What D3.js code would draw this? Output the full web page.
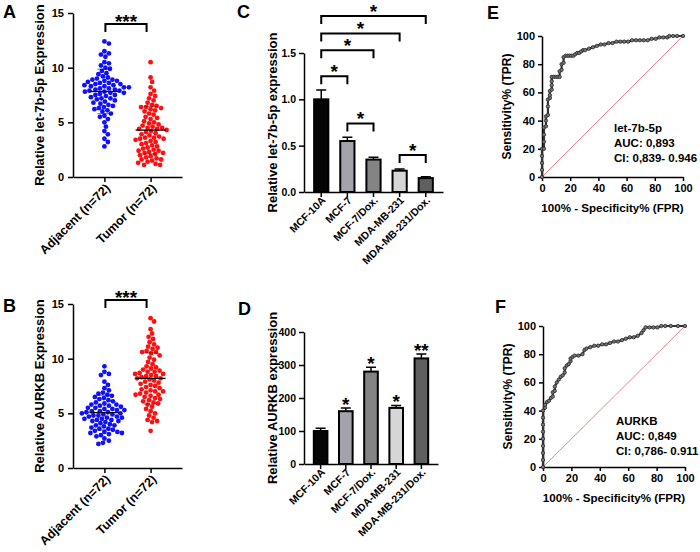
<!DOCTYPE html>
<html>
<head>
<meta charset="utf-8">
<title></title>
<style>
  body { margin: 0; background: #fff; }
  svg { display: block; font-family: "Liberation Sans", Arial, sans-serif; font-weight: bold; }
  .axis path, .axis line { stroke: #000; stroke-width: 1.5; }
</style>
</head>
<body>
<svg id="fig" width="700" height="552"></svg>
<script src="https://cdn.jsdelivr.net/npm/d3@7"></script>
<script>

// ---- panels A / B : scatter ----
const groupsAB = ["Adjacent (n=72)", "Tumor (n=72)"];
const yTicksAB = [0, 5, 10, 15];

const let7Adjacent = [12.4, 12.2, 11.5, 11.3, 11.2, 11.0, 10.5, 10.4, 10.2, 10.0, 9.9, 9.7, 9.5, 9.4, 9.2, 9.1, 9.0, 8.9,
  8.9, 8.8, 8.8, 8.7, 8.6, 8.6, 8.5, 8.5, 8.4, 8.4, 8.3, 8.3, 8.2, 8.2, 8.1, 8.1, 8.0, 8.0, 7.9, 7.9, 7.8, 7.8, 7.7, 7.7,
  7.6, 7.5, 7.5, 7.4, 7.3, 7.2, 7.2, 7.1, 7.0, 6.9, 6.8, 6.7, 6.6, 6.5, 6.4, 6.3, 6.2, 6.1, 6.0, 5.8, 5.6, 5.5, 5.3,
  5.0, 4.6, 4.2, 3.9, 3.5, 3.2, 2.8];
const let7Tumor = [10.5, 9.1, 8.7, 8.2, 7.9, 7.6, 7.4, 7.2, 7.0, 6.8, 6.6, 6.5, 6.4, 6.3, 6.2, 6.1, 6.0, 5.8, 5.7, 5.5,
  5.4, 5.3, 5.1, 5.0, 4.9, 4.8, 4.7, 4.6, 4.5, 4.5, 4.4, 4.4, 4.3, 4.2, 4.1, 4.0, 3.9, 3.8, 3.7, 3.6, 3.5, 3.5, 3.4,
  3.3, 3.2, 3.1, 3.0, 2.9, 2.8, 2.7, 2.6, 2.5, 2.4, 2.3, 2.2, 2.2, 2.1, 2.0, 1.9, 1.8, 1.7, 1.6, 1.5, 1.4, 1.3, 1.2,
  1.1, 1.1, 1.6, 2.4, 3.6, 6.4];
const aurkbAdjacent = [9.3, 8.8, 8.6, 8.5, 7.9, 7.6, 7.3, 7.1, 6.9, 6.8, 6.6, 6.5, 6.4, 6.3, 6.2, 6.1, 6.0, 5.9, 5.8,
  5.7, 5.7, 5.6, 5.5, 5.5, 5.4, 5.4, 5.3, 5.3, 5.2, 5.2, 5.1, 5.1, 5.0, 5.0, 4.9, 4.9, 4.8, 4.8, 4.7, 4.7, 4.6, 4.6,
  4.5, 4.5, 4.4, 4.3, 4.3, 4.2, 4.1, 4.0, 3.9, 3.9, 3.8, 3.7, 3.6, 3.6, 3.5, 3.4, 3.3, 3.3, 3.2, 3.2, 3.1, 3.0, 2.9,
  2.7, 2.5, 2.3, 2.2, 6.7, 5.8, 4.4];
const aurkbTumor = [13.7, 13.4, 12.7, 12.3, 12.0, 11.8, 11.5, 11.3, 11.1, 10.9, 10.7, 10.6, 10.5, 10.3, 10.1, 9.9, 9.7,
  9.5, 9.3, 9.2, 9.0, 8.9, 8.8, 8.7, 8.6, 8.5, 8.4, 8.4, 8.3, 8.2, 8.1, 8.0, 7.9, 7.8, 7.7, 7.6, 7.5, 7.4, 7.3, 7.2,
  7.1, 7.0, 6.9, 6.8, 6.7, 6.6, 6.5, 6.4, 6.3, 6.2, 6.1, 6.0, 5.8, 5.6, 5.4, 5.2, 5.0, 4.8, 4.6, 4.4, 4.3, 4.2, 3.4,
  10.6, 9.1, 8.8, 8.6, 6.7, 7.0, 8.2, 11.0, 5.9];

// ---- panels C / D : bars ----
const cellLines = ["MCF-10A", "MCF-7", "MCF-7/Dox.", "MDA-MB-231", "MDA-MB-231/Dox."];
const barColors = ["#050505", "#a3a3ab", "#848484", "#d6d6d6", "#5f5f5f"];
const let7Bars = [1.00, 0.55, 0.35, 0.23, 0.15];
const let7Err = [0.10, 0.04, 0.025, 0.018, 0.015];
const let7Ticks = [0, 0.5, 1.0, 1.5];
const let7Pairs = [[0, 1], [0, 2], [0, 3], [0, 4], [1, 2], [3, 4]];
const let7PairLevels = [1.25, 1.53, 1.71, 1.90, 0.74, 0.40];
const aurkbBars = [100, 160, 280, 170, 320];
const aurkbErr = [8, 10, 13, 7, 13];
const aurkbTicks = [0, 100, 200, 300, 400];
const aurkbStars = ["", "*", "*", "*", "**"];

// ---- panels E / F : ROC, [100% - specificity, sensitivity] ----
const rocTicks = [0, 20, 40, 60, 80, 100];
const rocE = [[0, 0], [0, 5], [0, 10], [0, 15], [0, 20], [1.4, 20], [1.4, 25], [1.4, 30], [1.4, 35], [2.8, 36],
  [2.8, 40], [2.8, 43], [4.2, 44], [4.2, 50], [4.2, 55], [5.6, 56], [5.6, 58], [5.6, 61], [6.9, 62], [6.9, 65],
  [6.9, 68], [6.9, 71], [8.3, 71], [9.7, 71], [11.1, 71], [12.5, 71], [12.5, 75], [13.9, 76], [13.9, 80], [15.3, 81],
  [15.3, 85], [16.7, 86], [18.1, 86], [19.4, 86], [20.8, 86], [22.2, 86], [23.6, 87], [25, 88], [26.4, 88],
  [27.8, 89], [29.2, 90], [30.6, 90], [33.3, 91], [36.1, 92], [38.9, 93], [41.7, 94], [44.4, 94], [47.2, 95],
  [50, 95], [52.8, 96], [55.6, 96], [58.3, 96], [61.1, 96], [63.9, 97], [66.7, 97], [69.4, 97], [72.2, 97], [75, 97],
  [77.8, 98], [80.6, 98], [83.3, 99], [86.1, 99], [88.9, 99], [90.3, 100], [93, 100], [95.8, 100], [100, 100]];
const rocF = [[0, 0], [0, 5], [0, 10], [0, 15], [0, 20], [0, 25], [0, 30], [0, 35], [0, 40], [1.4, 42], [1.4, 44],
  [2.8, 46], [4.2, 47], [5.6, 49], [6.9, 50], [6.9, 53], [8.3, 54], [8.3, 57], [9.7, 60], [11.1, 62], [12.5, 64],
  [13.9, 65], [15.3, 67], [15.3, 70], [16.7, 72], [18.1, 73], [19.4, 75], [19.4, 77], [20.8, 78], [22.2, 79],
  [25, 79], [27.8, 80], [29.2, 83], [30.6, 84], [33.3, 85], [36.1, 86], [38.9, 86], [41.7, 87], [44.4, 87],
  [47.2, 88], [50, 89], [52.8, 89], [55.6, 90], [58.3, 91], [61.1, 92], [63.9, 92], [66.7, 93], [69.4, 95],
  [70.8, 97], [72.2, 99], [75, 99], [77.8, 99], [80.6, 99], [83.3, 100], [86.1, 100], [90, 100], [95, 100], [100, 100]];
const rocTextE = ["let-7b-5p", "AUC: 0,893", "CI: 0,839- 0.946"];
const rocTextF = ["AURKB", "AUC: 0,849", "CI: 0,786- 0.911"];

const svg = d3.select("#fig");
svg.append("rect").attr("width", 700).attr("height", 552).attr("fill", "#fff");

function letter(t, x, y) {
  svg.append("text").attr("x", x).attr("y", y).attr("font-size", 18).text(t);
}

function yLabel(t, x, y, size) {
  svg.append("text").attr("transform", `translate(${x},${y}) rotate(-90)`)
    .attr("text-anchor", "middle").attr("font-size", size).text(t);
}

function styleTicks(sel, size) {
  sel.attr("font-family", null).attr("font-size", size).attr("fill", "#000");
  sel.selectAll("text").attr("fill", "#000");
}

function rotateLabels(axisG, size, dx, dy) {
  axisG.selectAll(".tick text")
    .attr("y", 0).attr("dy", 0).attr("font-size", size)
    .attr("text-anchor", "end")
    .attr("transform", `translate(${dx},${dy}) rotate(-45)`);
}

// simple beeswarm: each point goes to the nearest free offset from the centre
function swarm(values, y, minDist) {
  const placed = [];
  const out = new Array(values.length);
  const order = values.map((v, i) => i).sort((a, b) => values[b] - values[a]);
  order.forEach(i => {
    const py = y(values[i]);
    let best = 0;
    for (let k = 0; k < 400; k++) {
      const cand = (k % 2 ? 1 : -1) * Math.ceil(k / 2) * 0.5;
      if (placed.every(p => (p[0] - cand) ** 2 + (p[1] - py) ** 2 >= minDist * minDist)) { best = cand; break; }
    }
    placed.push([best, py]);
    out[i] = [best, py];
  });
  return out;
}

function drawScatter(cfg) {
  const y = d3.scaleLinear().domain([0, 15]).range([cfg.bottom, cfg.top]);
  const x = d3.scalePoint().domain(groupsAB).range([73, 182]).padding(0.68);

  const ya = svg.append("g").attr("class", "axis").attr("transform", "translate(73,0)")
    .call(d3.axisLeft(y).tickValues(yTicksAB).tickSize(5).tickSizeOuter(0).tickPadding(4));
  styleTicks(ya, 11);

  const xa = svg.append("g").attr("class", "axis").attr("transform", `translate(0,${cfg.bottom})`)
    .call(d3.axisBottom(x).tickSize(5).tickSizeOuter(0));
  styleTicks(xa, 12.5);
  rotateLabels(xa, 12.5, 6, 12);

  const colors = ["#1010ff", "#ff1010"];
  const lineColors = ["#00008a", "#8a0000"];
  cfg.series.forEach((vals, gi) => {
    const cx = x(groupsAB[gi]);
    const pts = swarm(vals, y, 4.6);
    svg.append("g").selectAll("circle").data(pts).join("circle")
      .attr("cx", d => cx + d[0]).attr("cy", d => d[1]).attr("r", 2.4)
      .attr("fill", colors[gi]);
    const m = d3.mean(vals), sd = d3.deviation(vals);
    [m - sd, m + sd].forEach(v => {
      svg.append("line").attr("x1", cx - 7).attr("x2", cx + 7).attr("y1", y(v)).attr("y2", y(v))
        .attr("stroke", lineColors[gi]).attr("stroke-width", 1).attr("opacity", 0.6);
    });
    svg.append("line").attr("x1", cx - 15).attr("x2", cx + 15).attr("y1", y(m)).attr("y2", y(m))
      .attr("stroke", "#000").attr("stroke-width", 1.3);
  });

  // significance bracket
  const x1 = x(groupsAB[0]) + 1, x2 = x(groupsAB[1]) - 4;
  svg.append("path").attr("d", `M${x1},${cfg.brTop + 8}V${cfg.brTop}H${x2}V${cfg.brTop + 8}`)
    .attr("fill", "none").attr("stroke", "#000").attr("stroke-width", 2);
  svg.append("text").attr("x", (x1 + x2) / 2).attr("y", cfg.brTop - 7 + 0.57 * 19)
    .attr("text-anchor", "middle").attr("font-size", 19).text("***");

  yLabel(cfg.label, 44, (cfg.top + cfg.bottom) / 2, 13);
}

function drawBars(cfg) {
  const x = d3.scaleBand().domain(cellLines).range([304, cfg.right]).paddingInner(0.38).paddingOuter(0.35);
  const y = d3.scaleLinear().domain(cfg.domain).range([cfg.bottom, cfg.top]);

  const ya = svg.append("g").attr("class", "axis").attr("transform", "translate(304,0)")
    .call(d3.axisLeft(y).tickValues(cfg.ticks).tickFormat(cfg.format).tickSize(5).tickSizeOuter(0).tickPadding(3));
  styleTicks(ya, 10.5);

  const xa = svg.append("g").attr("class", "axis").attr("transform", `translate(0,${cfg.bottom})`)
    .call(d3.axisBottom(x).tickSize(5).tickSizeOuter(0));
  styleTicks(xa, 10.5);
  rotateLabels(xa, 10.5, 5, 9);

  const bw = x.bandwidth();
  // error bars (upper only)
  svg.append("g").selectAll("path").data(cellLines).join("path")
    .attr("d", (c, i) => {
      const cx = x(c) + bw / 2, top = y(cfg.values[i] + cfg.err[i]);
      return `M${cx},${y(cfg.values[i])}V${top}M${cx - 5},${top}H${cx + 5}`;
    })
    .attr("stroke", "#000").attr("stroke-width", 1.5).attr("fill", "none");

  svg.append("g").selectAll("rect").data(cellLines).join("rect")
    .attr("x", c => x(c) + 1).attr("width", bw - 2)
    .attr("y", (c, i) => y(cfg.values[i]))
    .attr("height", (c, i) => y(0) - y(cfg.values[i]))
    .attr("fill", (c, i) => barColors[i]).attr("stroke", "#000").attr("stroke-width", 2);

  if (cfg.pairs) {
    cfg.pairs.forEach((p, k) => {
      const a = x(cellLines[p[0]]) + bw / 2, b = x(cellLines[p[1]]) + bw / 2;
      const ly = y(cfg.levels[k]);
      svg.append("path").attr("d", `M${a},${ly + 8}V${ly}H${b}V${ly + 8}`)
        .attr("fill", "none").attr("stroke", "#000").attr("stroke-width", 2);
      svg.append("text").attr("x", (a + b) / 2).attr("y", ly - 9 + 0.57 * 19)
        .attr("text-anchor", "middle").attr("font-size", 19).text("*");
    });
  }
  if (cfg.stars) {
    cfg.stars.forEach((s, i) => {
      if (!s) return;
      const top = y(cfg.values[i] + cfg.err[i]);
      svg.append("text").attr("x", x(cellLines[i]) + bw / 2).attr("y", top - 8 + 0.57 * 19)
        .attr("text-anchor", "middle").attr("font-size", 19).text(s);
    });
  }

  yLabel(cfg.label, 277, (cfg.top + cfg.bottom) / 2, 13);
}

function drawRoc(cfg) {
  const x = d3.scaleLinear().domain([0, 100]).range([cfg.left, cfg.right]);
  const y = d3.scaleLinear().domain([0, 100]).range([cfg.bottom, cfg.top]);

  const ya = svg.append("g").attr("class", "axis").attr("transform", `translate(${cfg.left},0)`)
    .call(d3.axisLeft(y).tickValues(rocTicks).tickSize(4).tickSizeOuter(0).tickPadding(3));
  styleTicks(ya, 11);
  const xa = svg.append("g").attr("class", "axis").attr("transform", `translate(0,${cfg.bottom})`)
    .call(d3.axisBottom(x).tickValues(rocTicks).tickSize(4).tickSizeOuter(0).tickPadding(3));
  styleTicks(xa, 11);

  svg.append("line").attr("x1", x(0)).attr("y1", y(0)).attr("x2", x(100)).attr("y2", y(100))
    .attr("stroke", "#e06a74").attr("stroke-width", 0.8);

  const line = d3.line().x(d => x(d[0])).y(d => y(d[1]));
  svg.append("path").datum(cfg.data).attr("d", line)
    .attr("fill", "none").attr("stroke", "#333").attr("stroke-width", 2.2);
  svg.append("g").selectAll("circle").data(cfg.data).join("circle")
    .attr("cx", d => x(d[0])).attr("cy", d => y(d[1])).attr("r", 1.7)
    .attr("fill", "#777").attr("stroke", "#2b2b2b").attr("stroke-width", 0.8);

  svg.append("text").attr("x", (cfg.left + cfg.right) / 2).attr("y", cfg.bottom + 35)
    .attr("text-anchor", "middle").attr("font-size", 11.6).text("100% - Specificity% (FPR)");
  yLabel("Sensitivity% (TPR)", cfg.left - 31, (cfg.top + cfg.bottom) / 2, 12);

  cfg.text.forEach((t, i) => {
    svg.append("text").attr("x", cfg.textX).attr("y", cfg.textY + i * 15)
      .attr("font-size", 11.5).text(t);
  });
}

drawScatter({ top: 13, bottom: 177, brTop: 24, series: [let7Adjacent, let7Tumor], label: "Relative let-7b-5p Expression" });
drawScatter({ top: 304, bottom: 468, brTop: 300, series: [aurkbAdjacent, aurkbTumor], label: "Relative AURKB Expression" });

drawBars({ top: 53, bottom: 192, right: 443, domain: [0, 1.5], ticks: let7Ticks, format: d3.format(".1f"),
  values: let7Bars, err: let7Err, pairs: let7Pairs, levels: let7PairLevels, label: "Relative let-7b-5p expression" });
drawBars({ top: 332, bottom: 464, right: 438, domain: [0, 400], ticks: aurkbTicks, format: d3.format("d"),
  values: aurkbBars, err: aurkbErr, stars: aurkbStars, label: "Relative AURKB expression" });

drawRoc({ left: 542, right: 683, top: 36, bottom: 177, data: rocE, text: rocTextE, textX: 614, textY: 132 });
drawRoc({ left: 543, right: 685, top: 326, bottom: 467, data: rocF, text: rocTextF, textX: 616, textY: 425 });

letter("A", 3, 18);
letter("B", 3, 312);
letter("C", 237, 18);
letter("D", 238, 315);
letter("E", 487, 19);
letter("F", 495, 313);

</script>
</body>
</html>
